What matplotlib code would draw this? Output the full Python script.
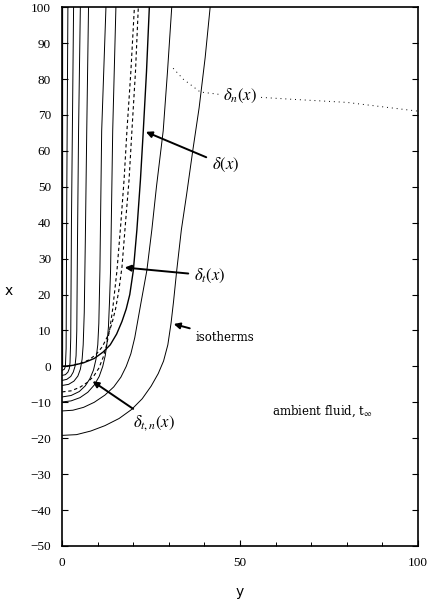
import numpy as np
import matplotlib.pyplot as plt

plt.rcParams['mathtext.fontset'] = 'stix'

# isotherms: (y, x) points from the y=0 axis crossing up to the top edge
iso_a_y = [0, 4, 8, 12, 16, 19.5, 22.5, 25, 27, 28.5, 29.7, 30.6, 31.3, 32.2,
           33.5, 35, 36.7, 38.5, 40.2, 41.6]
iso_a_x = [-19.2, -19, -18, -16.5, -14.5, -12, -9, -5.5, -2, 1.5, 6, 12, 18,
           26.7, 38, 48, 60, 72, 86, 100]
iso_b_y = [0, 3, 6, 9, 12, 14.5, 16.5, 18, 19.3, 20.4, 21.3, 22.2, 23.8, 25.2,
           26.5, 28.4, 29.6, 30.8]
iso_b_x = [-12.4, -12.2, -11.4, -10, -8, -5.7, -3, 0, 3.5, 8, 13, 18, 26.7, 38,
           50, 65.6, 82, 100]
iso_c_y = [0, 2.5, 5, 7.2, 9, 10.4, 11.4, 12.1, 12.6, 13, 13.3, 13.6, 14.2,
           15.1]
iso_c_x = [-9.9, -9.6, -8.7, -7.2, -5.2, -2.8, 0, 3, 6.5, 11, 18, 26.7, 65.6,
           100]
iso_d_y = [0, 2.5, 4.8, 6.5, 7.8, 8.8, 9.5, 10, 10.3, 10.6, 11.1, 12.3]
iso_d_x = [-8.5, -8.1, -7, -5.4, -3.4, -1, 2, 6, 12, 26.7, 65.6, 100]
iso_e_y = [0, 1.8, 3.3, 4.4, 5.1, 5.6, 5.9, 6.2, 6.5, 6.9, 7.4]
iso_e_x = [-5.3, -5, -4.1, -2.7, -0.8, 2, 6, 15, 35, 65.6, 100]
iso_f_y = [0, 1.3, 2.4, 3.1, 3.6, 3.9, 4.1, 4.3, 4.6, 5.1]
iso_f_x = [-3.9, -3.6, -2.8, -1.6, 0, 3, 10, 35, 65.6, 100]
iso_g_y = [0, 0.9, 1.6, 2.0, 2.2, 2.4, 2.6, 2.9, 3.2]
iso_g_x = [-2.5, -2.3, -1.6, -0.6, 1, 8, 40, 70, 100]
iso_h_y = [0, 0.6, 0.9, 1.1, 1.3, 1.6]
iso_h_x = [-1.1, -0.8, 0, 5, 50, 100]

# velocity boundary layer
delta_y = [0, 3, 6, 9, 11.5, 13.5, 15.3, 16.8, 18, 19, 20, 21, 22, 22.8, 23.7,
           24.5]
delta_x = [0, 0.3, 1, 2.2, 4, 6, 9, 12.5, 16, 20, 26.7, 38, 52, 65.6, 82, 100]
# thermal boundary layers
delta_t_y = [0, 2.5, 5, 7.5, 9.5, 11.3, 12.8, 14, 15, 15.9, 16.8, 17.8, 18.8,
             19.6, 20.6, 21.4]
delta_t_x = [0, 0.2, 0.8, 1.8, 3.3, 5.5, 8.5, 12, 16, 21, 27.6, 40, 52, 65.6,
             82, 100]
delta_tn_y = [0, 2.5, 5, 7, 8.8, 10.3, 11.5, 12.5, 13.4, 14.2, 15.4, 16.5,
              17.4, 18.2, 19.3, 20.3]
delta_tn_x = [-7.1, -6.8, -5.8, -4.5, -2.8, -0.5, 2.5, 6, 10.5, 16, 26.7, 40,
              52, 65.6, 82, 100]
delta_n_y = [31.2, 34, 38.8, 46, 64, 80, 99.7]
delta_n_x = [83, 80, 76.4, 75.5, 74.4, 73.5, 71.1]

fig = plt.figure(figsize=(4.29, 6.0), dpi=100)
ax = fig.add_axes([0.145, 0.09, 0.829, 0.898])

isotherms = [(iso_a_y, iso_a_x), (iso_b_y, iso_b_x), (iso_c_y, iso_c_x),
             (iso_d_y, iso_d_x), (iso_e_y, iso_e_x), (iso_f_y, iso_f_x),
             (iso_g_y, iso_g_x), (iso_h_y, iso_h_x)]
for yy, xx in isotherms:
    ax.plot(yy, xx, color='black', lw=0.7, solid_joinstyle='round')

ax.plot(delta_y, delta_x, color='black', lw=1.0)
ax.plot(delta_t_y, delta_t_x, color='black', lw=0.8, ls=(0, (3, 2.5)))
ax.plot(delta_tn_y, delta_tn_x, color='black', lw=0.8, ls=(0, (3, 2.5)))
ax.plot(delta_n_y, delta_n_x, color='black', lw=0.7, ls=(0, (1, 4)))

# heated plate along y = 0
ax.plot([0, 0], [0, 100], color='black', lw=1.6)

ax.set_xlim(0, 100)
ax.set_ylim(-50, 100)
ax.set_xticks([0, 50, 100])
ax.set_xticks(np.arange(0, 101, 10), minor=True)
ax.set_yticks(np.arange(-50, 101, 10))
ax.tick_params(direction='in', length=4, width=0.8, right=True, top=False,
               labelsize=9.5)
ax.tick_params(axis='x', pad=8)
ax.tick_params(axis='y', pad=8)
ax.tick_params(which='minor', direction='in', length=3, width=0.7)
for lab in ax.get_xticklabels() + ax.get_yticklabels():
    lab.set_fontfamily('Liberation Serif')
for sp in ax.spines.values():
    sp.set_linewidth(1.2)

ax.set_xlabel('y', fontsize=10)
ax.xaxis.set_label_coords(0.5, -0.072)
ax.set_ylabel('x', fontsize=10, rotation=0)
ax.yaxis.set_label_coords(-0.15, 0.46)

arrow = dict(arrowstyle='-|>', color='black', lw=1.4, mutation_scale=9)
ax.text(50, 75.3, r'$\delta_n(x)$', fontsize=12, ha='center', va='center',
        bbox=dict(facecolor='white', edgecolor='none', pad=1))
ax.annotate(r'$\delta(x)$', xy=(22.8, 65.6), xytext=(42, 56),
            fontsize=12, arrowprops=arrow, va='center')
ax.annotate(r'$\delta_t(x)$', xy=(16.8, 27.6), xytext=(37, 25.3),
            fontsize=12, arrowprops=arrow, va='center')
ax.annotate('isotherms', xy=(30.6, 12), xytext=(37.4, 8),
            fontsize=8.5, family='DejaVu Serif', arrowprops=arrow, va='center')
ax.annotate(r'$\delta_{t,n}(x)$', xy=(7.9, -3.7), xytext=(20, -15.8),
            fontsize=12, arrowprops=arrow, va='center')
ax.text(59, -12.5, r'ambient fluid, t$_\infty$', fontsize=8.5,
        family='DejaVu Serif', va='center')

fig.savefig('out.png', dpi=100)
